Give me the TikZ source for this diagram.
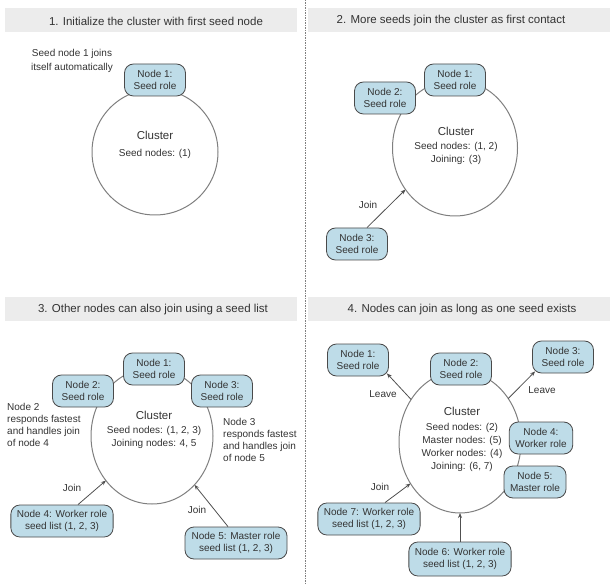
\documentclass[tikz,border=0pt]{standalone}
\usepackage{fontspec}
\setmainfont{Liberation Sans}
\usetikzlibrary{arrows.meta,shapes.geometric}
\definecolor{nodefill}{HTML}{BEDCE8}
\definecolor{nodeline}{HTML}{4A4A4A}
\definecolor{barfill}{HTML}{ECECEC}
\definecolor{txt}{HTML}{333333}
\definecolor{ringcol}{HTML}{7F7F7F}
\definecolor{arrcol}{HTML}{505050}
\tikzset{
  role/.style={draw=nodeline, fill=nodefill, line width=0.8pt, rounded corners=9pt,
    align=center, text=txt, font=\fontsize{10}{12}\selectfont,
    inner xsep=6pt, inner ysep=2pt, minimum width=61pt, minimum height=32pt},
  widerole/.style={role, minimum width=102pt},
  ring/.style={draw=ringcol, line width=1pt, ellipse, inner sep=0pt, outer sep=0pt},
  bartitle/.style={text=txt, font=\fontsize{11.5}{13}\selectfont, inner sep=0pt},
  clname/.style={text=txt, font=\fontsize{11.5}{13}\selectfont, inner sep=0pt},
  cltext/.style={text=txt, font=\fontsize{10}{13}\selectfont, align=center, inner sep=0pt},
  lbl/.style={text=txt, font=\fontsize{10}{12}\selectfont, inner sep=0pt},
  flow/.style={draw=arrcol, line width=0.8pt, -{Stealth[length=5pt,width=4pt]}}
}
\begin{document}
\begin{tikzpicture}[x=1pt,y=-1pt]
\useasboundingbox (0,0) rectangle (610,585);
% title bars
\fill[barfill] (5,8) rectangle (297,32);
\fill[barfill] (308,8) rectangle (610,32);
\fill[barfill] (5,297) rectangle (297,321);
\fill[barfill] (308,297) rectangle (610,321);
\draw[ringcol, line width=0.6pt, dash pattern=on 1.5pt off 1pt] (305,0) -- (305,585);
\node[bartitle] (t1) at (156,21) {1. Initialize the cluster with first seed node};
\node[bartitle] (t2) at (451,21) {2. More seeds join the cluster as first contact};
\node[bartitle] (t3) at (153,310) {3. Other nodes can also join using a seed list};
\node[bartitle] (t4) at (462,310) {4. Nodes can join as long as one seed exists};

% ---------- panel 1 ----------
\node[ring, minimum width=126pt, minimum height=126pt] (c1) at (155,152) {};
\node[role] (n11) at (155,80) {Node 1:\\Seed role};
\node[lbl, align=center, font=\fontsize{10}{14}\selectfont] (s1) at (72,61) {Seed node 1 joins\\itself automatically};
\node[clname] (k1) at (155,135) {Cluster};
\node[cltext] (d1) at (155,154) {Seed nodes: (1)};

% ---------- panel 2 ----------
\node[ring, minimum width=125pt, minimum height=136pt] (c2) at (455,148) {};
\node[role] (n21) at (455,80) {Node 1:\\Seed role};
\node[role] (n22) at (385,98) {Node 2:\\Seed role};
\node[role] (n23) at (357,244) {Node 3:\\Seed role};
\node[clname] (k2) at (456,131) {Cluster};
\node[cltext] (d2) at (456,153.5) {Seed nodes: (1, 2)\\Joining: (3)};
\draw[flow] ([xshift=10pt]n23.north) -- (c2.220);
\node[lbl] (j2) at (368,205) {Join};

% ---------- panel 3 ----------
\node[ring, minimum width=122pt, minimum height=136pt] (c3) at (152,436) {};
\node[role] (n31) at (154,369) {Node 1:\\Seed role};
\node[role] (n32) at (83,391) {Node 2:\\Seed role};
\node[role] (n33) at (222,391) {Node 3:\\Seed role};
\node[widerole] (n34) at (62,521) {Node 4: Worker role\\seed list (1, 2, 3)};
\node[widerole] (n35) at (236,543) {Node 5: Master role\\seed list (1, 2, 3)};
\node[clname] (k3) at (154,415) {Cluster};
\node[cltext] (d3) at (154,437) {Seed nodes: (1, 2, 3)\\Joining nodes: 4, 5};
\node[lbl, align=left, anchor=west] (s32) at (7,425) {Node 2\\responds fastest\\and handles join\\of node 4};
\node[lbl, align=left, anchor=west] (s33) at (223,440) {Node 3\\responds fastest\\and handles join\\of node 5};
\draw[flow] ([xshift=16pt]n34.north) -- (c3.224);
\draw[flow] ([xshift=-8pt]n35.north) -- (c3.311);
\node[lbl] (j31) at (72,488) {Join};
\node[lbl] (j32) at (197,510) {Join};

% ---------- panel 4 ----------
\node[ring, minimum width=122pt, minimum height=142pt] (c4) at (460,442) {};
\node[role] (n41) at (358,360) {Node 1:\\Seed role};
\node[role] (n42) at (461,369) {Node 2:\\Seed role};
\node[role] (n43) at (563,357) {Node 3:\\Seed role};
\node[role] (n44) at (541,438) {Node 4:\\Worker role};
\node[role] (n45) at (535,482) {Node 5:\\Master role};
\node[widerole] (n47) at (369,519) {Node 7: Worker role\\seed list (1, 2, 3)};
\node[widerole, minimum height=34pt] (n46) at (460,559) {Node 6: Worker role\\seed list (1, 2, 3)};
\node[clname] (k4) at (462,411) {Cluster};
\node[cltext] (d4) at (462,447) {Seed nodes: (2)\\Master nodes: (5)\\Worker nodes: (4)\\Joining: (6, 7)};
\draw[flow] (c4.139.5) -- ([shift={(-2pt,3pt)}]n41.south east);
\draw[flow] (c4.42.6) -- ([shift={(3pt,2pt)}]n43.south west);
\draw[flow] ([xshift=16pt]n47.north) -- (c4.220);
\draw[flow] (n46.north) -- (c4.270);
\node[lbl] (l41) at (383,394) {Leave};
\node[lbl] (l43) at (542,390) {Leave};
\node[lbl] (j47) at (380,487) {Join};
\end{tikzpicture}
\end{document}
